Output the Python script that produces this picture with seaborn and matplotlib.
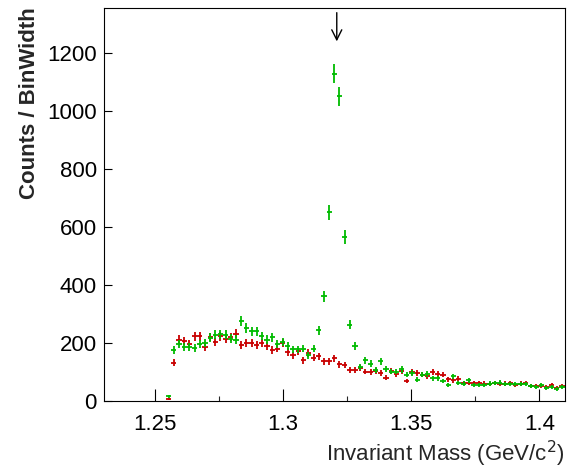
import numpy as np
import pandas as pd
import matplotlib
matplotlib.use("Agg")
import matplotlib.pyplot as plt
import seaborn as sns

# ---- dados (Counts / BinWidth por bin) ----
FIRST_CENTER = 1.2553
BIN_WIDTH = 0.00202

green_counts = [16, 175, 198, 186, 186, 184, 196, 201, 219, 229, 230, 229, 215, 212,
                275, 252, 240, 240, 224, 212, 220, 198, 204, 190, 178, 178, 181, 158,
                181, 244, 362, 651, 1128, 1050, 565, 263, 190, 117, 140, 129, 108, 137,
                110, 102, 102, 109, 91, 98, 74, 91, 94, 79, 79, 69, 56, 85, 63, 60,
                71, 56, 56, 55, 60, 62, 64, 58, 58, 58, 58, 58, 51, 49, 55, 46, 49,
                43, 49]
red_counts = [8, 133, 212, 206, 196, 223, 223, 188, 221, 204, 223, 215, 221, 232,
              194, 201, 200, 192, 201, 190, 176, 181, 201, 169, 158, 171, 140, 166,
              150, 154, 137, 137, 148, 127, 125, 108, 108, 115, 102, 100, 103, 98,
              81, 103, 94, 103, 69, 100, 98, 91, 85, 100, 94, 91, 75, 71, 77, 62,
              62, 62, 62, 60, 58, 63, 60, 60, 62, 56, 60, 62, 51, 52, 52, 49, 56,
              46, 51]

xi_mass = 1.3209          # seta indicando o pico
x_ticks = [1.25, 1.3, 1.35, 1.4]
x_tick_labels = ["1.25", "1.3", "1.35", "1.4"]
y_ticks = [0, 200, 400, 600, 800, 1000, 1200]

mass = FIRST_CENTER + BIN_WIDTH * np.arange(len(green_counts))
df = pd.DataFrame({
    "mass": np.concatenate([mass, mass]),
    "counts": np.array(red_counts + green_counts, dtype=float),
    "sample": ["red"] * len(red_counts) + ["green"] * len(green_counts),
})
df["err"] = np.sqrt(df["counts"])

sns.set_theme(style="ticks")
plt.rcParams["font.family"] = ["Liberation Sans", "DejaVu Sans"]

fig, ax = plt.subplots(figsize=(5.71, 4.73), dpi=100)
fig.subplots_adjust(left=0.182, right=0.9895, bottom=0.152, top=0.984)

colors = {"red": "#c80000", "green": "#00bb00"}
for name in ["red", "green"]:
    sub = df[df["sample"] == name]
    ax.errorbar(sub["mass"], sub["counts"], xerr=BIN_WIDTH / 2, yerr=sub["err"],
                fmt="none", ecolor=colors[name], elinewidth=1.3, capsize=0)

ax.annotate("", xy=(xi_mass, 1230), xytext=(xi_mass, 1348),
            arrowprops=dict(arrowstyle="->", lw=1.0, color="black", mutation_scale=18))

ax.set_xlim(1.23, 1.41)
ax.set_ylim(0, 1356)
ax.set_xticks(x_ticks)
ax.set_xticklabels(x_tick_labels)
ax.set_xticks([1.275, 1.325, 1.375], minor=True)
ax.set_yticks(y_ticks)

ax.tick_params(axis="x", which="major", direction="in", length=8.5, width=0.8,
               labelsize=16, pad=9, colors="black")
ax.tick_params(axis="x", which="minor", direction="in", length=3.6, width=0.8)
ax.tick_params(axis="y", direction="in", length=5.8, width=0.8, labelsize=16,
               pad=5, colors="black")
for s in ax.spines.values():
    s.set_visible(True)
    s.set_linewidth(0.8)
    s.set_color("black")

ax.set_xlabel("Invariant Mass (GeV/c$^2$)", fontsize=16, loc="right", labelpad=3)
ax.set_ylabel("Counts / BinWidth", fontsize=16, fontweight="bold", loc="top", labelpad=5)

fig.savefig("out.png", dpi=100)
